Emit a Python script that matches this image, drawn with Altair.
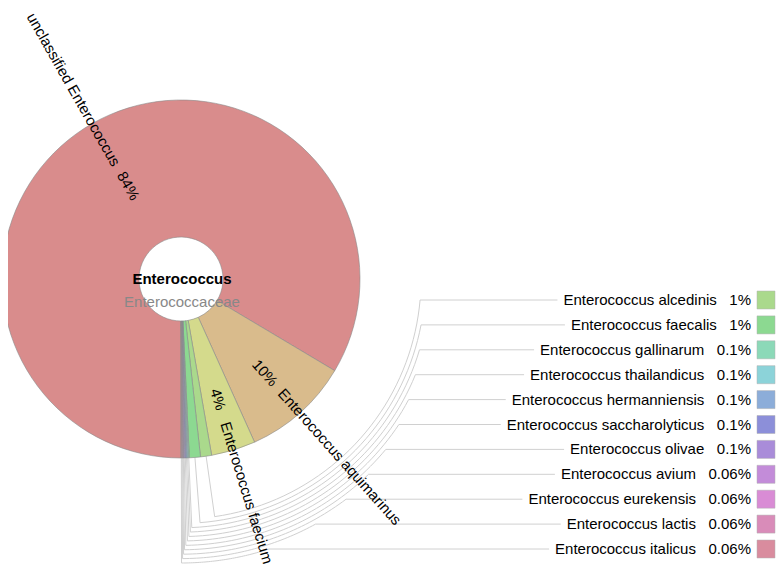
import math
import altair as alt
import pandas as pd

# ---------------- data ----------------
names = [
    "unclassified Enterococcus", "Enterococcus aquimarinus", "Enterococcus faecium",
    "Enterococcus alcedinis", "Enterococcus faecalis", "Enterococcus gallinarum",
    "Enterococcus thailandicus", "Enterococcus hermanniensis", "Enterococcus saccharolyticus",
    "Enterococcus olivae", "Enterococcus avium", "Enterococcus eurekensis",
    "Enterococcus lactis", "Enterococcus italicus",
]
values = [83.56, 9.7, 4.0, 1.0, 1.0, 0.1, 0.1, 0.1, 0.1, 0.1, 0.06, 0.06, 0.06, 0.06]
pct_labels = ["84%", "10%", "4%", "1%", "1%", "0.1%", "0.1%", "0.1%", "0.1%", "0.1%",
              "0.06%", "0.06%", "0.06%", "0.06%"]
colors = ["#d98c8c", "#d9bb8c", "#d4da8c", "#aad98c", "#8cd991", "#8cd9b8",
          "#8cd3d9", "#8cadd9", "#8c8fd9", "#a98cd9", "#c38cd9", "#d98cd5",
          "#d98cb9", "#d98c9e"]
center_name = "Enterococcus"
center_parent = "Enterococcaceae"

# ---------------- layout / style ----------------
CX, CY = 181, 279
R_OUT, R_IN = 179, 42
PCT_R, NAME_R = 126, 150
PCT_R_FLIP, NAME_R_FLIP = 107, 131
FONT = "Liberation Sans"
FS = 15
KEY_Y0, KEY_DY = 300, 24.9
KEY_TEXT_X = 751
SW_X0, SW_X1 = 757, 775
ARC_R0, ARC_DR = 240, 4.4
W, H = 768, 557
NB = "\u00a0"

CW = {' ': 278, NB: 278, 'a': 556, 'b': 556, 'c': 500, 'd': 556, 'e': 556, 'f': 278,
      'g': 556, 'h': 556, 'i': 222, 'j': 222, 'k': 500, 'l': 222, 'm': 833, 'n': 556,
      'o': 556, 'p': 556, 'q': 556, 'r': 333, 's': 500, 't': 278, 'u': 556, 'v': 500,
      'w': 722, 'x': 500, 'y': 500, 'z': 500, 'E': 667, '.': 278, '%': 889}


def text_width(s, size=FS):
    return sum(CW.get(ch, 556) for ch in s) * size / 1000.0


xs = alt.Scale(domain=[8, 8 + W], nice=False, zero=False)
ys = alt.Scale(domain=[8, 8 + H], nice=False, zero=False, reverse=True)
col_scale = alt.Scale(domain=names, range=colors)

total = sum(values)
mids = []
cum = 0.0
for v in values:
    s = 180 + 360 * cum / total
    e = 180 + 360 * (cum + v) / total
    mids.append(((s + e) / 2) % 360)
    cum += v

slices = pd.DataFrame({"idx": range(len(names)), "name": names, "value": values})

# in-slice labels
lab_rows = []
for i, (n, v, p) in enumerate(zip(names, values, pct_labels)):
    if v < 2:
        continue
    t = math.radians(mids[i])
    sx, sy = math.sin(t), -math.cos(t)
    out_ang = (mids[i] - 90) % 360
    flipped = 90 < out_ang < 270
    ang = (out_ang + 180) % 360 if flipped else out_ang
    nr = NAME_R_FLIP if flipped else NAME_R
    pr = PCT_R_FLIP if flipped else PCT_R
    lab_rows.append({"text": p, "x": CX + pr * sx, "y": CY + pr * sy,
                     "ang": ang, "kind": "pct", "flip": flipped})
    lab_rows.append({"text": n, "x": CX + nr * sx, "y": CY + nr * sy,
                     "ang": ang, "kind": "name", "flip": flipped})
labels = pd.DataFrame(lab_rows)

# key (legend) entries and connector lines
key_rows, line_rows = [], []
k = 0
for i, (n, v, p) in enumerate(zip(names, values, pct_labels)):
    if v >= 2:
        continue
    yk = KEY_Y0 + KEY_DY * k
    txt = n + NB * 3 + p
    tx0 = KEY_TEXT_X - text_width(txt)
    key_rows.append({"name": n, "text": txt, "x": KEY_TEXT_X, "y": yk,
                     "sx0": SW_X0, "sx1": SW_X1, "sy0": yk - 9, "sy1": yk + 9})
    t = mids[i]
    rk = ARC_R0 + ARC_DR * k
    pts = []
    tr = math.radians(t)
    pts.append((CX + R_OUT * math.sin(tr), CY - R_OUT * math.cos(tr)))
    b = math.degrees(math.acos((CY - yk) / rk))
    steps = 40
    for j in range(steps + 1):
        a = math.radians(t + (b - t) * j / steps)
        pts.append((CX + rk * math.sin(a), CY - rk * math.cos(a)))
    pts.append((tx0 - 6, yk))
    for sq, (px, py) in enumerate(pts):
        line_rows.append({"key": n, "seq": sq, "x": px, "y": py})
    k += 1
keys = pd.DataFrame(key_rows)
lines = pd.DataFrame(line_rows)

center = pd.DataFrame({"text": [center_name, center_parent],
                       "x": [CX + 1, CX + 1], "y": [CY, CY + 23]})

# ---------------- layers ----------------
conn = alt.Chart(lines).mark_line(color="#d0d0d0", strokeWidth=1).encode(
    x=alt.X("x:Q", scale=xs, axis=None),
    y=alt.Y("y:Q", scale=ys, axis=None),
    detail="key:N",
    order=alt.Order("seq:Q"),
)

pie = alt.Chart(slices).mark_arc(
    outerRadius=R_OUT, innerRadius=R_IN, stroke="#8a8a8a", strokeWidth=0.6
).encode(
    theta=alt.Theta("value:Q", stack=True,
                    scale=alt.Scale(range=[math.pi, 3 * math.pi])),
    order=alt.Order("idx:Q"),
    color=alt.Color("name:N", scale=col_scale, legend=None),
    x=alt.XDatum(CX, type="quantitative", scale=xs),
    y=alt.YDatum(CY, type="quantitative", scale=ys),
)


def lab_layer(df, align):
    return alt.Chart(df).mark_text(font=FONT, fontSize=FS, align=align,
                                   baseline="middle", color="#000000").encode(
        x=alt.X("x:Q", scale=xs), y=alt.Y("y:Q", scale=ys),
        text="text:N", angle=alt.Angle("ang:Q", scale=None))


pct_layer = lab_layer(labels[labels.kind == "pct"], "center")
name_left = lab_layer(labels[(labels.kind == "name") & (~labels.flip)], "left")
name_right = lab_layer(labels[(labels.kind == "name") & (labels.flip)], "right")

ctr1 = alt.Chart(center.iloc[[0]]).mark_text(
    font=FONT, fontSize=FS, fontWeight="bold", baseline="middle", color="#000000"
).encode(x=alt.X("x:Q", scale=xs), y=alt.Y("y:Q", scale=ys), text="text:N")
ctr2 = alt.Chart(center.iloc[[1]]).mark_text(
    font=FONT, fontSize=FS, baseline="middle", color="#888888"
).encode(x=alt.X("x:Q", scale=xs), y=alt.Y("y:Q", scale=ys), text="text:N")

key_text = alt.Chart(keys).mark_text(
    font=FONT, fontSize=FS, align="right", baseline="middle", color="#000000"
).encode(x=alt.X("x:Q", scale=xs), y=alt.Y("y:Q", scale=ys), text="text:N")

swatch = alt.Chart(keys).mark_rect(stroke="#b0b0b0", strokeWidth=0.5).encode(
    x=alt.X("sx0:Q", scale=xs), x2="sx1:Q",
    y=alt.Y("sy0:Q", scale=ys), y2="sy1:Q",
    color=alt.Color("name:N", scale=col_scale, legend=None),
)

chart = alt.layer(
    conn, pie, pct_layer, name_left, name_right, ctr1, ctr2, key_text, swatch
).properties(
    width=W, height=H, padding=0, autosize=alt.AutoSizeParams(type="none")
).configure_view(stroke=None)

chart.save("out.html", embed_options={"renderer": "svg", "actions": False})
